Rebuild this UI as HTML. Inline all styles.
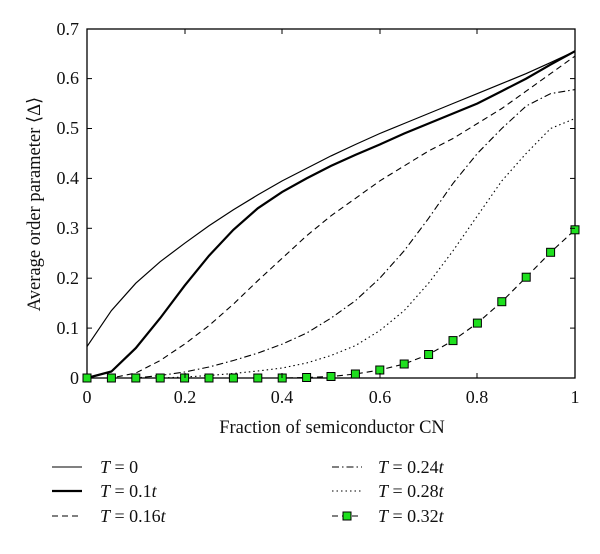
<!DOCTYPE html><html><head><meta charset="utf-8"><style>body{margin:0;background:#fff}svg{display:block}text{font-family:"Liberation Serif",serif;fill:#111}</style></head><body>
<svg id="s" width="600" height="554" xmlns="http://www.w3.org/2000/svg">
<rect x="87" y="29" width="488" height="349" fill="none" stroke="#000" stroke-width="1.3"/>
<g font-size="18" text-anchor="end">
<text x="79" y="384">0</text><text x="79" y="334">0.1</text><text x="79" y="284">0.2</text><text x="79" y="234">0.3</text><text x="79" y="184">0.4</text><text x="79" y="134">0.5</text><text x="79" y="84">0.6</text><text x="79" y="35">0.7</text></g>
<g font-size="18" text-anchor="middle">
<text x="87" y="403">0</text><text x="185" y="403">0.2</text><text x="282" y="403">0.4</text><text x="380" y="403">0.6</text><text x="477" y="403">0.8</text><text x="575" y="403">1</text>
<text x="332" y="433" font-size="18.5">Fraction of semiconductor CN</text>
<text transform="translate(40,204) rotate(-90)" font-size="18.5">Average order parameter ⟨Δ⟩</text></g>
<g id="c"></g>
<g font-size="18">
<line x1="52" y1="467" x2="82" y2="467" stroke="#000" stroke-width="1.1"/><text x="100" y="473"><tspan font-style="italic">T</tspan> = 0</text>
<line x1="52" y1="491" x2="82" y2="491" stroke="#000" stroke-width="2.2"/><text x="100" y="497"><tspan font-style="italic">T</tspan> = 0.1<tspan font-style="italic">t</tspan></text>
<line x1="52" y1="516" x2="82" y2="516" stroke="#000" stroke-width="1.1" stroke-dasharray="6,4"/><text x="100" y="522"><tspan font-style="italic">T</tspan> = 0.16<tspan font-style="italic">t</tspan></text>
<line x1="332" y1="467" x2="362" y2="467" stroke="#000" stroke-width="1.1" stroke-dasharray="7,3,1.5,3"/><text x="378" y="473"><tspan font-style="italic">T</tspan> = 0.24<tspan font-style="italic">t</tspan></text>
<line x1="332" y1="491" x2="362" y2="491" stroke="#000" stroke-width="1.1" stroke-dasharray="1.5,3"/><text x="378" y="497"><tspan font-style="italic">T</tspan> = 0.28<tspan font-style="italic">t</tspan></text>
<line x1="332" y1="516" x2="362" y2="516" stroke="#000" stroke-width="1.1" stroke-dasharray="6,4"/><rect x="343" y="512" width="8" height="8" fill="#1ee01e" stroke="#000"/><text x="378" y="522"><tspan font-style="italic">T</tspan> = 0.32<tspan font-style="italic">t</tspan></text>
</g>
</svg>
<script>
var D=[
[[0.063,0.135,0.19,0.233,0.27,0.305,0.337,0.367,0.395,0.42,0.445,0.468,0.49,0.51,0.53,0.55,0.57,0.59,0.61,0.632,0.655],"1.2",""],
[[0,0.013,0.06,0.12,0.185,0.245,0.297,0.34,0.373,0.4,0.425,0.447,0.468,0.49,0.51,0.53,0.55,0.575,0.6,0.628,0.655],"2.2",""],
[[0,0,0.01,0.035,0.068,0.105,0.148,0.195,0.24,0.285,0.325,0.36,0.395,0.425,0.455,0.48,0.51,0.54,0.575,0.61,0.645],"1.1","6,4"],
[[0,0,0,0.005,0.012,0.022,0.035,0.05,0.068,0.09,0.12,0.155,0.2,0.255,0.32,0.39,0.45,0.5,0.545,0.57,0.578],"1.1","7,3,1.5,3"],
[[0,0,0,0,0.002,0.005,0.009,0.014,0.02,0.03,0.045,0.065,0.095,0.135,0.19,0.255,0.325,0.395,0.45,0.5,0.52],"1.1","1.5,3"],
[[0,0,0,0,0,0,0,0,0,0.001,0.003,0.008,0.016,0.028,0.047,0.075,0.11,0.153,0.202,0.252,0.297],"1.1","6,4"]];
var g=document.getElementById('c'),h='';
D.forEach(function(d,k){var p=d[0].map(function(v,i){return (87+488*i/20).toFixed(1)+','+(378-499*v).toFixed(1)}).join(' ');
h+='<polyline points="'+p+'" fill="none" stroke="#000" stroke-width="'+d[1]+'"'+(d[2]?' stroke-dasharray="'+d[2]+'"':'')+'/>';
if(k==5)d[0].forEach(function(v,i){h+='<rect x="'+(83+488*i/20).toFixed(1)+'" y="'+(374-499*v).toFixed(1)+'" width="8" height="8" fill="#1ee01e" stroke="#000"/>'});});
[185,282,380,477].forEach(function(x){h+='<line x1="'+x+'" y1="378" x2="'+x+'" y2="373" stroke="#000"/><line x1="'+x+'" y1="29" x2="'+x+'" y2="34" stroke="#000"/>'});
for(var i=1;i<7;i++){var y=378-49.9*i;h+='<line x1="87" y1="'+y+'" x2="92" y2="'+y+'" stroke="#000"/><line x1="575" y1="'+y+'" x2="570" y2="'+y+'" stroke="#000"/>'}
g.innerHTML=h;
</script>
</body></html>
